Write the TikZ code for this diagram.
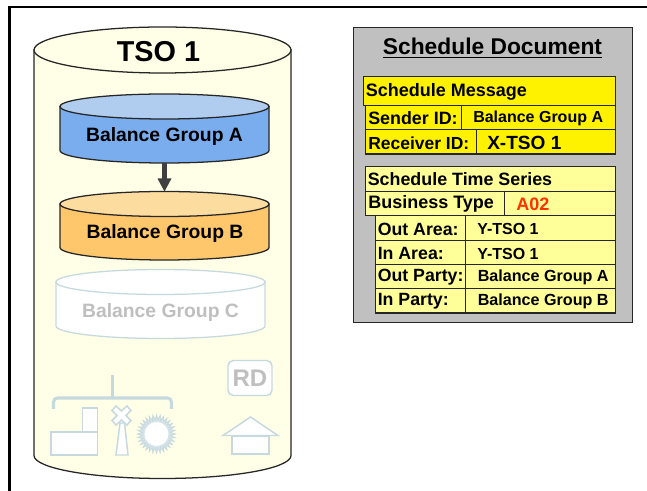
\documentclass[tikz,border=0pt]{standalone}
\usepackage{fontspec}
\setmainfont{Liberation Sans}
\usetikzlibrary{shapes.geometric}
\definecolor{paleyellow}{HTML}{FFFFE8}
\definecolor{blueTop}{HTML}{B0CDEF}
\definecolor{blueBody}{HTML}{7AADEE}
\definecolor{orangeTop}{HTML}{FDDC9F}
\definecolor{orangeBody}{HTML}{FFC76B}
\definecolor{ghost}{HTML}{C5D9DF}
\definecolor{ghostText}{HTML}{BFBFBF}
\definecolor{docGray}{HTML}{C0C0C0}
\definecolor{cellLight}{HTML}{FFFF99}
\definecolor{edge}{HTML}{262626}
\definecolor{arrowGray}{HTML}{404040}
\definecolor{redText}{HTML}{FF3300}
\newcommand{\px}[1]{\fontsize{#1}{#1}\selectfont\bfseries}
% \drum{name}{cx}{top ellipse cy}{rx}{ry}{bottom ellipse cy}{top fill}{body fill}{stroke}
\newcommand{\drum}[9]{%
  \path[draw=#9,fill=#8,line width=0.95pt]
    (#2-#4,#3) -- (#2-#4,#6) arc[start angle=180,end angle=360,x radius=#4*0.75pt,y radius=#5*0.75pt] -- (#2+#4,#3) -- cycle;
  \path[draw=#9,fill=#7,line width=0.95pt] (#2,#3) ellipse[x radius=#4*0.75pt,y radius=#5*0.75pt];
  \coordinate (#1top) at (#2,#3-#5);
  \coordinate (#1bot) at (#2,#6+#5);
}
% \cellbox{name}{x0}{y0}{x1}{y1}{fill}
\newcommand{\cellbox}[6]{\node[cellstyle,fill=#6,minimum width=(#4-#2)*0.75pt,minimum height=(#5-#3)*0.75pt,anchor=north west] (#1) at (#2,#3) {};}
\tikzset{
  cellstyle/.style={draw=edge,line width=0.95pt,inner sep=0pt,rectangle},
  lbl/.style={anchor=west,inner sep=0pt,text=black,font=\bfseries},
  ctr/.style={anchor=center,inner sep=0pt,text=black,font=\bfseries},
  ghostline/.style={draw=ghost,line width=1.1pt,fill=white,line join=miter},
}
\begin{document}
\begin{tikzpicture}[x=0.75pt,y=-0.75pt]
\useasboundingbox (0,0) rectangle (647,491);
\fill[white] (0,0) rectangle (647,491);
\draw[black,line width=1.7pt] (647,7) -- (9.5,7) -- (9.5,491);

% big cylinder
\drum{tso}{162.5}{50}{128.5}{23}{455.5}{paleyellow}{paleyellow}{edge}
\node[ctr] (tsoT) at (158.5,52) {\px{21.6pt}TSO 1};

\drum{a}{164.5}{106.5}{104.5}{12.5}{150.5}{blueTop}{blueBody}{edge}
\node[ctr] (aT) at (164.5,136.5) {\px{14.5pt}Balance Group A};
\drum{b}{164.5}{204}{104.5}{12.5}{247.5}{orangeTop}{orangeBody}{edge}
\node[ctr] (bT) at (165,234) {\px{14.5pt}Balance Group B};
\drum{c}{160.5}{282}{104.5}{12.5}{326}{white}{white}{ghost}
\node[ctr,text=ghostText] (cT) at (160.5,312.5) {\px{14.5pt}Balance Group C};

\draw[arrowGray,line width=3.2pt] (abot) -- ([yshift=9pt]btop);
\path[fill=arrowGray] (btop) -- ++(-7,-13) -- ++(14,0) -- cycle;

% RD
\node[draw=ghost,line width=1.1pt,fill=white,rounded corners=4pt,minimum width=44*0.75pt,minimum height=35*0.75pt,inner sep=0pt,text=ghostText] (rd) at (250,378) {\px{18pt}RD};

% bracket
\draw[ghost,line width=2.3pt,rounded corners=3pt] (53.5,409) -- (53.5,398) -- (171.5,398) -- (171.5,409);
\draw[ghost,line width=2.3pt] (112.5,375) -- (112.5,398);

% factory
\path[ghostline] (82.5,408) -- (97.5,408) -- (97.5,455) -- (51,455) -- (51,432) -- (82.5,432) -- cycle;
\draw[ghost,line width=1.1pt] (82.5,432) -- (97.5,432);
% turbine
\path[ghostline] (120,423) -- (124.5,423) -- (128,455) -- (116,455) -- cycle;
\path[ghostline] (116,406) -- (121.5,411) -- (127,406) -- (131,410.5) -- (126,415.5) -- (131,420.5) -- (127,425) -- (121.5,420) -- (116,425) -- (112,420.5) -- (117,415.5) -- (112,410.5) -- cycle;
% sun
\node[star,star points=32,star point ratio=1.35,draw=ghost,fill=ghost!70,line width=.6pt,minimum size=38*0.75pt,inner sep=0pt] (sun) at (156.5,434) {};
\node[circle,fill=white,draw=ghost!70,line width=.6pt,minimum size=25*0.75pt,inner sep=0pt] (sunc) at (sun.center) {};
% house
\path[ghostline] (232,436) -- (269,436) -- (269,454) -- (232,454) -- cycle;
\path[ghostline] (250.5,417) -- (278,435.5) -- (223,435.5) -- cycle;

% Schedule document
\node[draw=edge,line width=1.1pt,fill=docGray,minimum width=279*0.75pt,minimum height=295*0.75pt,anchor=north west,inner sep=0pt] (doc) at (353,27) {};
\node[ctr] (docT) at (492.5,48) {\px{17.1pt}\underline{Schedule Document}};

\cellbox{sm}{363}{76}{615}{105}{yellow}
\node[lbl] (smT) at (365.5,92) {\px{13.5pt}Schedule Message};
\cellbox{s1}{365}{105}{461}{129}{yellow}
\cellbox{s2}{461}{105}{615}{129}{yellow}
\node[lbl] at (368,118.5) {\px{13.4pt}Sender ID:};
\node[lbl] at (473,118.5) {\px{12pt}Balance Group A};
\cellbox{r1}{365}{129}{476}{153.5}{yellow}
\cellbox{r2}{476}{129}{615}{153.5}{yellow}
\node[lbl] at (368,143) {\px{13.1pt}Receiver ID:};
\node[lbl] at (487,143) {\px{14.3pt}X-TSO 1};

\cellbox{ts}{365}{166}{615}{191}{cellLight}
\node[lbl] at (367.5,179.5) {\px{13.4pt}Schedule Time Series};
\cellbox{bt1}{365}{191}{504}{215}{cellLight}
\cellbox{bt2}{504}{191}{615}{215}{cellLight}
\node[lbl] at (368,204) {\px{13.5pt}Business Type};
\node[lbl,text=redText] at (516,204.5) {\px{13.5pt}A02};

\cellbox{oa1}{375}{215}{465}{240}{cellLight}
\cellbox{oa2}{465}{215}{615}{240}{cellLight}
\node[lbl] at (377.5,229) {\px{13.3pt}Out Area:};
\node[lbl] at (477,229) {\px{12pt}Y-TSO 1};
\cellbox{ia1}{375}{240}{465}{264}{cellLight}
\cellbox{ia2}{465}{240}{615}{264}{cellLight}
\node[lbl] at (377.5,253) {\px{13.3pt}In Area:};
\node[lbl] at (477,253.5) {\px{12pt}Y-TSO 1};
\cellbox{op1}{375}{264}{465}{288}{cellLight}
\cellbox{op2}{465}{264}{615}{288}{cellLight}
\node[lbl] at (377.5,277.5) {\px{13.3pt}Out Party:};
\node[lbl] at (477.5,277.5) {\px{12.1pt}Balance Group A};
\cellbox{ip1}{375}{288}{465}{312.5}{cellLight}
\cellbox{ip2}{465}{288}{615}{312.5}{cellLight}
\node[lbl] at (377.5,301.5) {\px{13.3pt}In Party:};
\node[lbl] at (477.5,301.5) {\px{12.1pt}Balance Group B};
\end{tikzpicture}
\end{document}
